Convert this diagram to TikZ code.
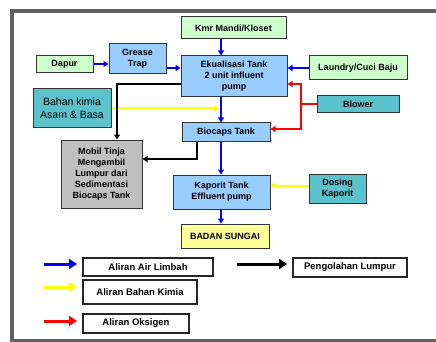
\documentclass[tikz,border=0pt]{standalone}
\usepackage{fontspec}
\setmainfont{Liberation Sans}
\usetikzlibrary{
  arrows.meta,
  positioning,
  calc
}
\definecolor{ipGreen}{HTML}{CCFFCC}
\definecolor{ipBlue}{HTML}{99CCFF}
\definecolor{ipTeal}{HTML}{5BC1CA}
\definecolor{ipGray}{HTML}{C0C0C0}
\definecolor{ipYellow}{HTML}{FFFF99}
\definecolor{ipFrame}{HTML}{606060}
\definecolor{ipWaste}{HTML}{0000FF}
\definecolor{ipChem}{HTML}{FFFF00}
\definecolor{ipOxy}{HTML}{FF0000}
\tikzset{
  ipnode/.style={
    draw=black!80, line width=1pt, inner sep=1pt, align=center,
    font=\fontsize{9}{11}\selectfont\bfseries
  },
  srcbox/.style={ipnode, fill=ipGreen},
  tankbox/.style={ipnode, fill=ipBlue},
  chembox/.style={ipnode, fill=ipTeal},
  sludgebox/.style={ipnode, fill=ipGray, font=\fontsize{9}{11}\selectfont\bfseries},
  riverbox/.style={ipnode, fill=ipYellow},
  legbox/.style={
    draw=black!85, line width=1.7pt, inner sep=1pt,
    font=\fontsize{9.5}{11}\selectfont\bfseries
  },
  flow/.style={line width=2pt, -{Triangle[length=5pt,width=6pt]}},
  wasteflow/.style={flow, draw=ipWaste, color=ipWaste},
  chemflow/.style={flow, draw=ipChem, color=ipChem},
  oxflow/.style={flow, draw=ipOxy, color=ipOxy},
  sludgeflow/.style={flow, draw=black, color=black},
  legflow/.style={line width=3pt, -{Triangle[length=8pt,width=10pt]}}
}

\begin{document}
\begin{tikzpicture}[x=1pt, y=-1pt]
  \useasboundingbox (0,0) rectangle (436,342);
  \draw[line width=4.5pt, draw=ipFrame] (436,11) -- (12,11) -- (12,341) -- (436,341);

  % sources
  \node[srcbox, minimum width=105pt, minimum height=22pt] (kmr) at (233.5,28) {Kmr Mandi/Kloset};
  \node[srcbox, minimum width=57pt, minimum height=17pt] (dapur) at (64.5,64) {Dapur};
  \node[srcbox, minimum width=98pt, minimum height=24pt] (laundry) at (358,68) {Laundry/Cuci Baju};

  % tanks
  \node[tankbox, minimum width=57pt, minimum height=30pt] (grease) at (137.5,59) {Grease\\Trap};
  \node[tankbox, minimum width=106pt, minimum height=41pt] (ekual) at (234,76.5)
    {Ekualisasi Tank\\2 unit influent\\pump};
  \node[tankbox, minimum width=88pt, minimum height=18pt] (biocaps) at (226,132) {Biocaps Tank};
  \node[tankbox, minimum width=97pt, minimum height=34pt] (kaporit) at (221.5,192)
    {Kaporit Tank\\Effluent pump};
  \node[riverbox, minimum width=88pt, minimum height=24pt] (sungai) at (225,236) {BADAN SUNGAI};

  % additives
  \node[chembox, minimum width=82pt, minimum height=17pt] (blower) at (358,104.5) {Blower};
  \node[chembox, minimum width=78pt, minimum height=39pt,
    font=\fontsize{10.5}{13}\selectfont] (kimia) at (72,108.5) {Bahan kimia\\Asam \& Basa};
  \node[chembox, minimum width=57pt, minimum height=29pt] (dosing) at (337.5,188.5) {Dosing\\Kaporit};
  \node[sludgebox, minimum width=81pt, minimum height=68pt] (mobil) at (101.5,174)
    {Mobil Tinja\\Mengambil\\Lumpur dari\\Sedimentasi\\Biocaps Tank};

  % guide lines for the connectors
  \coordinate (spine) at (221,0);
  \coordinate (rj) at (301,0);
  \coordinate (sj) at (117,0);
  \coordinate (bj) at (197,0);

  % waste water
  \draw[wasteflow] (kmr.south -| spine) -- (ekual.north -| spine);
  \draw[wasteflow] (dapur.east) -- (grease.west |- dapur.east);
  \draw[wasteflow] (grease.east |- laundry.west) -- (ekual.west |- laundry.west);
  \draw[wasteflow] (laundry.west) -- (ekual.east |- laundry.west);
  \draw[wasteflow] (ekual.south -| spine) -- (biocaps.north -| spine);
  \draw[wasteflow] (biocaps.south -| spine) -- (kaporit.north -| spine);
  \draw[wasteflow] (kaporit.south -| spine) -- (sungai.north -| spine);

  % chemicals
  \draw[chemflow, shorten >=2pt] (kimia.east) -- (kimia.east -| spine);
  \draw[chemflow] ($(dosing.west)+(0,-3)$) -- ($(kaporit.east |- dosing.west)+(0,-3)$);

  % oxygen
  \draw[oxflow] (blower.west) -- (blower.west -| rj) |- ($(ekual.east)+(0,7.5)$);
  \draw[oxflow] (blower.west -| rj) |- ($(biocaps.east)+(0,-3)$);

  % sludge
  \draw[sludgeflow] ($(ekual.west)+(0,7.5)$) -| (mobil.north -| sj);
  \draw[sludgeflow] (biocaps.south -| bj) |- ($(mobil.east)+(0,-15)$);

  % legend
  \node[legbox, minimum width=130pt, minimum height=18pt] (lgair) at (148,267) {Aliran Air Limbah};
  \node[legbox, minimum width=114pt, minimum height=24pt] (lgkimia) at (140,292) {Aliran Bahan Kimia};
  \node[legbox, minimum width=106pt, minimum height=19pt] (lgoks) at (136,323.5) {Aliran Oksigen};
  \node[legbox, minimum width=114pt, minimum height=19pt] (lglumpur) at (350,267.5) {Pengolahan Lumpur};
  \coordinate (la1) at (44,264);  \coordinate (la2) at (77,264);
  \coordinate (lk1) at (44,287);  \coordinate (lk2) at (77,287);
  \coordinate (lo1) at (44,321);  \coordinate (lo2) at (77,321);
  \coordinate (ll1) at (237,264); \coordinate (ll2) at (287,264);
  \draw[legflow, draw=ipWaste, color=ipWaste] (la1) -- (la2);
  \draw[legflow, draw=ipChem, color=ipChem] (lk1) -- (lk2);
  \draw[legflow, draw=ipOxy, color=ipOxy] (lo1) -- (lo2);
  \draw[legflow, draw=black, color=black] (ll1) -- (ll2);
\end{tikzpicture}
\end{document}
